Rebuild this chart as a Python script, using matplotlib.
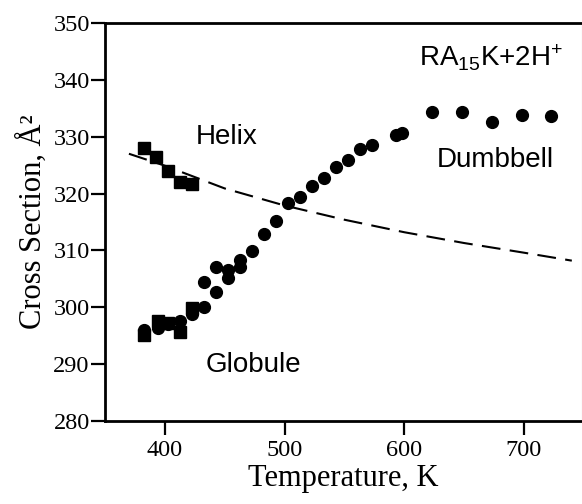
import matplotlib
matplotlib.use("Agg")
import matplotlib.pyplot as plt

# helix (squares)
helix_T = [383, 393, 403, 413, 423]
helix_cs = [328.0, 326.5, 324.0, 322.0, 321.6]

# globule -> dumbbell (squares at low T that overlap with circles)
glob_sq_T = [383, 394, 403, 413, 423]
glob_sq_cs = [295.1, 297.5, 297.2, 295.7, 299.8]

# circles
circ_T = [383, 394, 403, 413, 423, 433, 433, 443, 443, 453, 453, 463, 463, 473,
          483, 493, 503, 513, 523, 533, 543, 553, 563, 573, 593, 598,
          623, 648, 673, 698, 723]
circ_cs = [296.0, 296.3, 297.0, 297.5, 298.9, 300.0, 304.4, 302.7, 307.0, 305.1,
           306.6, 307.0, 308.4, 309.9, 312.9, 315.1, 318.3, 319.4, 321.4, 322.7,
           324.7, 325.9, 327.8, 328.5, 330.3, 330.6, 334.3, 334.4, 332.5, 333.8,
           333.6]

# dashed model curve
curve_T = [370, 400, 450, 500, 550, 600, 650, 700, 740]
curve_cs = [327.0, 324.9, 320.9, 317.9, 315.4, 313.2, 311.3, 309.6, 308.2]

x_ticks = [400, 500, 600, 700]
y_ticks = [280, 290, 300, 310, 320, 330, 340, 350]

plt.rcParams['mathtext.fontset'] = 'custom'
plt.rcParams['mathtext.rm'] = 'Liberation Sans'
plt.rcParams['mathtext.it'] = 'Liberation Sans:italic'

fig = plt.figure(figsize=(5.82, 5.04), dpi=100)
ax = fig.add_axes([0.1804, 0.1647, 0.8196, 0.7897])

ax.plot(curve_T, curve_cs, color='black', lw=1.5, dashes=(9, 4.5))
ax.plot(helix_T, helix_cs, 's', color='black', ms=8)
ax.plot(glob_sq_T, glob_sq_cs, 's', color='black', ms=8)
ax.plot(circ_T, circ_cs, 'o', color='black', ms=8.5)

ax.set_xlim(350, 748.5)
ax.set_ylim(280, 350)
ax.set_xticks(x_ticks)
ax.set_yticks(y_ticks)

serif = 'Liberation Serif'
sans = 'Liberation Sans'
ax.set_xticklabels([str(v) for v in x_ticks], family=serif, fontsize=17.5)
ax.set_yticklabels([str(v) for v in y_ticks], family=serif, fontsize=17.5)
ax.tick_params(direction='out', length=10, width=1.6, pad=1)
ax.tick_params(axis='x', pad=4)

for side in ['left', 'bottom', 'top']:
    ax.spines[side].set_linewidth(2)
ax.spines['right'].set_linewidth(0.8)
ax.spines['right'].set_color('#c8c8c8')

ax.set_xlabel('Temperature, K', family=serif, fontsize=22, labelpad=2)
ax.set_ylabel('Cross Section, Å²', family=serif, fontsize=22, labelpad=4)

ax.text(426, 330.0, 'Helix', family=sans, fontsize=20, ha='left', va='center')
ax.text(434, 289.8, 'Globule', family=sans, fontsize=20, ha='left', va='center')
ax.text(676, 325.9, 'Dumbbell', family=sans, fontsize=20, ha='center', va='center')
ax.text(733, 343.8, r'RA$_{\mathrm{15}}$K+2H$^{\mathrm{+}}$', family=sans,
        fontsize=20, ha='right', va='center')

fig.savefig('out.png', dpi=100)
